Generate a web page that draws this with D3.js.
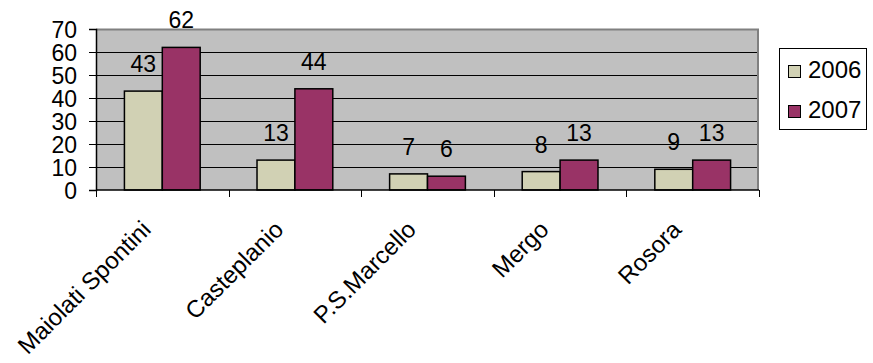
<!DOCTYPE html>
<html>
<head>
<meta charset="utf-8">
<script src="https://cdn.jsdelivr.net/npm/d3@7/dist/d3.min.js"></script>
<style>
  html, body { margin: 0; padding: 0; background: #fff; }
  svg { display: block; font-family: "Liberation Sans", Arial, sans-serif; }
</style>
</head>
<body>
<svg id="chart" width="873" height="363"></svg>
<script>
// Comuni and yearly counts
const categories = ["Maiolati Spontini", "Casteplanio", "P.S.Marcello", "Mergo", "Rosora"];
const seriesNames = ["2006", "2007"];
const values2006 = [43, 13, 7, 8, 9];
const values2007 = [62, 44, 6, 13, 13];
const yTicks = [0, 10, 20, 30, 40, 50, 60, 70];

const colors = { "2006": "#D1D1B4", "2007": "#993366" };
const series = { "2006": values2006, "2007": values2007 };

const svg = d3.select("#chart");
const plot = { left: 96, right: 759, top: 29, bottom: 190 };
const fontSize = 23;

const x = d3.scaleBand().domain(categories).range([plot.left, plot.right]).padding(0);
const xs = d3.scaleBand().domain(seriesNames).range([0, x.bandwidth()])
  .paddingInner(0).paddingOuter(0.75);
const y = d3.scaleLinear().domain([0, 70]).range([plot.bottom, plot.top]);

// plot background
svg.append("rect")
  .attr("x", plot.left).attr("y", plot.top)
  .attr("width", plot.right - plot.left).attr("height", plot.bottom - plot.top)
  .attr("fill", "#C0C0C0");

// gridlines
svg.append("g").selectAll("line")
  .data(yTicks.filter(t => t > 0 && t < 70))
  .join("line")
  .attr("x1", plot.left).attr("x2", plot.right)
  .attr("y1", d => Math.round(y(d)) + 0.5).attr("y2", d => Math.round(y(d)) + 0.5)
  .attr("stroke", "#000").attr("stroke-width", 1);

// plot border (top and right)
svg.append("path")
  .attr("d", `M${plot.left},${plot.top + 0.5}H${plot.right - 1}V${plot.bottom}`)
  .attr("fill", "none").attr("stroke", "#808080").attr("stroke-width", 2);

// bars
const rows = categories.map((c, i) => ({ cat: c, vals: seriesNames.map(s => ({ s, v: series[s][i] })) }));
const groups = svg.append("g").selectAll("g").data(rows).join("g")
  .attr("transform", d => `translate(${x(d.cat)},0)`);

groups.selectAll("rect").data(d => d.vals).join("rect")
  .attr("x", d => xs(d.s))
  .attr("y", d => y(d.v))
  .attr("width", xs.bandwidth())
  .attr("height", d => y(0) - y(d.v))
  .attr("fill", d => colors[d.s])
  .attr("stroke", "#000").attr("stroke-width", 1.5);

// value labels
groups.selectAll("text").data(d => d.vals).join("text")
  .attr("x", d => xs(d.s) + xs.bandwidth() / 2)
  .attr("y", d => y(d.v) - 19)
  .attr("text-anchor", "middle")
  .attr("font-size", fontSize)
  .attr("fill", "#000")
  .text(d => d.v);

// y axis
const yAxis = d3.axisLeft(y).tickValues(yTicks).tickSize(7).tickPadding(12);
const gy = svg.append("g").attr("transform", `translate(${plot.left},0)`).call(yAxis);
gy.select(".domain").attr("stroke", "#000").attr("stroke-width", 1.5);
gy.selectAll(".tick line").attr("stroke", "#000");
gy.selectAll(".tick text").attr("font-size", fontSize).attr("font-family", "Liberation Sans, Arial, sans-serif")
  .attr("fill", "#000").attr("dy", "0.36em");

// x axis: ticks at category boundaries
const gx = svg.append("g").attr("transform", `translate(0,${plot.bottom})`);
gx.append("line").attr("x1", plot.left).attr("x2", plot.right)
  .attr("stroke", "#000").attr("stroke-width", 1.5);
const bounds = categories.map(c => x(c)).concat([x(categories[categories.length - 1]) + x.bandwidth()]);
gx.selectAll("line.tk").data(bounds).join("line").attr("class", "tk")
  .attr("x1", d => Math.round(d) + 0.5).attr("x2", d => Math.round(d) + 0.5)
  .attr("y1", 0).attr("y2", 7)
  .attr("stroke", "#000").attr("stroke-width", 1);

// rotated category labels
svg.append("g").selectAll("text").data(categories).join("text")
  .attr("transform", d => `translate(${x(d) + x.bandwidth() / 2 - 10},231) rotate(-45)`)
  .attr("text-anchor", "end")
  .attr("font-size", 24)
  .attr("fill", "#000")
  .text(d => d);

// legend
const lg = svg.append("g");
lg.append("rect").attr("x", 779.5).attr("y", 48.5).attr("width", 87).attr("height", 81)
  .attr("fill", "#fff").attr("stroke", "#000").attr("stroke-width", 1);
const items = lg.selectAll("g").data(seriesNames).join("g")
  .attr("transform", (d, i) => `translate(0,${i * 40})`);
items.append("rect").attr("x", 788.5).attr("y", 65.5).attr("width", 12).attr("height", 12)
  .attr("fill", d => colors[d]).attr("stroke", "#000").attr("stroke-width", 1);
items.append("text").attr("x", 808).attr("y", 78)
  .attr("font-size", 24).attr("fill", "#000").text(d => d);
</script>
</body>
</html>
